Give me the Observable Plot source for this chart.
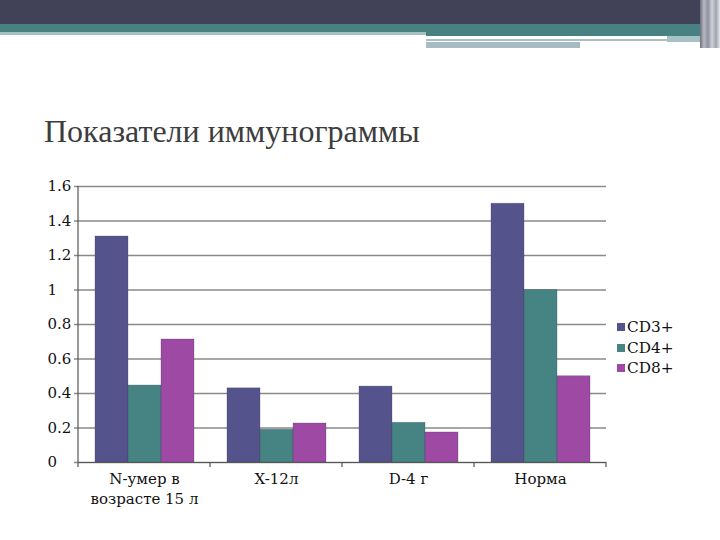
<!DOCTYPE html>
<html>
<head>
<meta charset="utf-8">
<script src="https://cdn.jsdelivr.net/npm/d3@7"></script>
<script src="https://cdn.jsdelivr.net/npm/@observablehq/plot@0.6"></script>
<style>
  html, body { margin: 0; padding: 0; background: #fff; }
  #wrap { position: relative; width: 720px; height: 540px; overflow: hidden; font-family: "DejaVu Serif", serif; }
  .band { position: absolute; }
  #title { position: absolute; left: 44px; top: 113px; font-size: 32px; color: #3d3d3d; white-space: nowrap; font-family: "Liberation Serif", serif; }
  #legend { position: absolute; left: 617px; top: 317px; font-size: 15.3px; color: #111; line-height: 20.5px; }
  #legend .sw { display: inline-block; width: 8px; height: 8px; margin-right: 2px; vertical-align: 1px; }
  #chart { position: absolute; left: 0; top: 0; }
</style>
</head>
<body>
<div id="wrap">
  <div class="band" style="left:0;top:0;width:720px;height:24px;background:#414257"></div>
  <div class="band" style="left:0;top:24px;width:426px;height:8px;background:#478181"></div>
  <div class="band" style="left:0;top:32px;width:426px;height:3px;background:#a6bfc3"></div>
  <div class="band" style="left:426px;top:24px;width:280px;height:12px;background:#478181"></div>
  <div class="band" style="left:426px;top:39px;width:241px;height:2px;background:#a6bfc3"></div>
  <div class="band" style="left:667px;top:36px;width:40px;height:6px;background:#a6c2c6"></div>
  <div class="band" style="left:426px;top:42px;width:154px;height:6px;background:#a6bcc2"></div>
  <div class="band" style="left:700px;top:0;width:20px;height:48px;background:linear-gradient(to right,#6d6f80,#b7b9c2,#8e90a0,#d0d2d8,#a0a2b0,#e6e7ea)"></div>
  <div id="title">Показатели иммунограммы</div>
  <div id="chart"></div>
  <div id="legend"></div>
</div>
<script>
const categories = ["N-умер в\nвозрасте 15 л", "X-12л", "D-4 г", "Норма"];
const seriesNames = ["CD3+", "CD4+", "CD8+"];
const cd3 = [1.31, 0.43, 0.44, 1.50];
const cd4 = [0.446, 0.19, 0.23, 1.00];
const cd8 = [0.713, 0.226, 0.174, 0.50];
const yTicks = [0, 0.2, 0.4, 0.6, 0.8, 1, 1.2, 1.4, 1.6];
const colors = ["#55538b", "#468484", "#9e4aa5"];

const seriesValues = [cd3, cd4, cd8];
const data = [];
categories.forEach((c, i) => {
  seriesNames.forEach((s, j) => data.push({cat: c, series: s, value: seriesValues[j][i]}));
});

const chart = Plot.plot({
  width: 720,
  height: 540,
  marginLeft: 77,
  marginRight: 113,
  marginTop: 186,
  marginBottom: 78,
  style: {fontFamily: "'DejaVu Serif', serif", fontSize: "15px", color: "#111", background: "transparent"},
  fx: {domain: categories, paddingInner: 0, paddingOuter: 0, label: null, axis: null},
  x: {domain: seriesNames, paddingInner: 0, paddingOuter: 0.5, axis: null},
  y: {domain: [0, 1.6], label: null, axis: null},
  color: {domain: seriesNames, range: colors},
  marks: [
    Plot.gridY(yTicks, {stroke: "#8a8a8a", strokeOpacity: 1, strokeWidth: 1.5}),
    Plot.barY(data, {fx: "cat", x: "series", y: "value", fill: "series", stroke: "#3a3a5a", strokeOpacity: 0.35, strokeWidth: 0.8}),
    Plot.axisY(yTicks, {tickSize: 4, tickPadding: 27, textAnchor: "start", tickFormat: d => String(d), fontSize: 15, fill: "#111", stroke: "#8a8a8a", strokeWidth: 1.5}),
    Plot.ruleY([0], {stroke: "#555", strokeWidth: 1.2}),
    Plot.axisFx({anchor: "bottom", tickSize: 0, tickPadding: 8, fontSize: 15, lineHeight: 1.3, fill: "#111"})
  ]
});
document.getElementById("chart").appendChild(chart);

// left axis line and category boundary ticks, positioned through the chart's own scales
const fx = chart.scale("fx");
const y = chart.scale("y");
const svg = d3.select(chart);
const y0 = y.apply(0), y1 = y.apply(1.6);
const left = fx.apply(categories[0]);
const step = fx.step !== undefined ? fx.step : fx.bandwidth;
svg.append("line").attr("x1", left).attr("x2", left).attr("y1", y0).attr("y2", y1)
  .attr("stroke", "#555").attr("stroke-width", 1.2);
const bounds = categories.map(c => fx.apply(c)).concat([fx.apply(categories[categories.length - 1]) + step]);
svg.selectAll("line.bt").data(bounds).join("line").attr("class", "bt")
  .attr("x1", d => d).attr("x2", d => d).attr("y1", y0).attr("y2", y0 + 5)
  .attr("stroke", "#555").attr("stroke-width", 1.2);

const legend = document.getElementById("legend");
seriesNames.forEach((s, j) => {
  const row = document.createElement("div");
  row.innerHTML = `<span class="sw" style="background:${colors[j]}"></span>${s}`;
  legend.appendChild(row);
});
</script>
</body>
</html>
